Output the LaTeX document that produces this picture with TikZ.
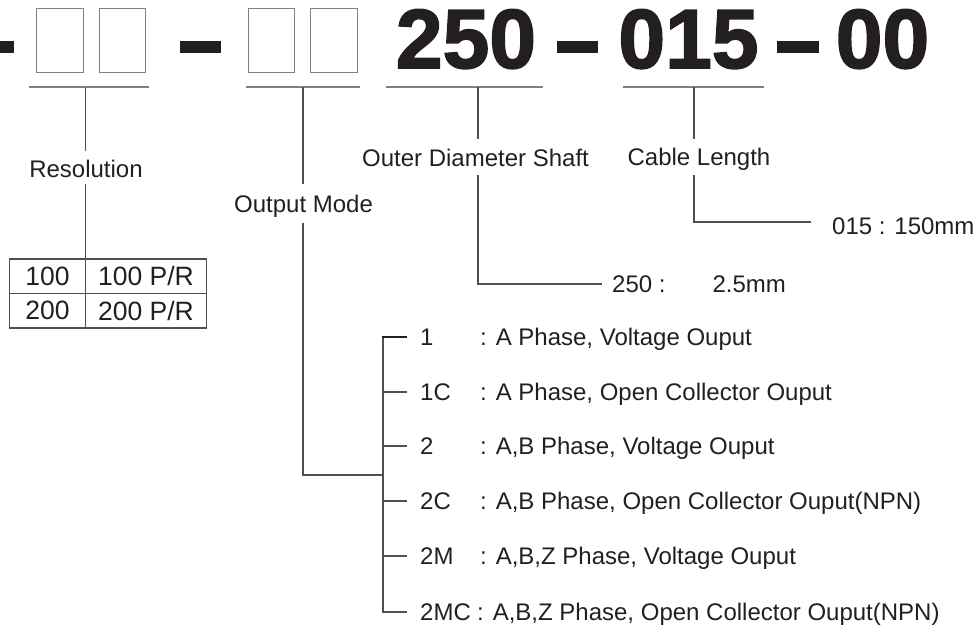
\documentclass[tikz,border=0pt]{standalone}
\usepackage{fontspec}
\setmainfont{Liberation Sans}
\newfontfamily\heavyfont[FakeBold=2]{Liberation Sans Bold}
\definecolor{ink}{HTML}{231F20}
\definecolor{lgray}{HTML}{808080}
\definecolor{dgray}{HTML}{505050}
\begin{document}
\begin{tikzpicture}[x=1pt,y=-1pt,
  lab/.style={font=\fontsize{24}{28}\selectfont, text=ink, inner sep=0pt, anchor=base},
  labw/.style={lab, anchor=base west},
  bigdig/.style={font=\fontsize{84}{90}\selectfont\heavyfont, text=ink, inner sep=0pt, anchor=base},
  slot/.style={draw=lgray, line width=1pt, minimum width=46.5pt, minimum height=64pt, inner sep=0pt},
  bar/.style={fill=ink, draw=none, inner sep=0pt, minimum height=12pt},
  uline/.style={draw=lgray, line width=1.1pt},
  conn/.style={draw=dgray, line width=1.1pt},
  cell/.style={draw=dgray, line width=1.1pt, inner sep=0pt, outer sep=0pt, font=\fontsize{26.5}{30}\selectfont, text=ink},
]
\useasboundingbox (0,0) rectangle (975,625);

% code line
\node[bar, minimum width=14pt] (d0) at (7,47) {};
\node[slot] (b1) at (60,40) {};
\node[slot] (b2) at (122.5,40) {};
\node[bar, minimum width=41pt] (d1) at (200.5,47) {};
\node[slot] (b3) at (271.5,40) {};
\node[slot] (b4) at (334,40) {};
\node[bigdig] (n250) at (466,68) {250};
\node[bar, minimum width=41pt] (d2) at (577.5,47) {};
\node[bigdig] (n015) at (688.5,68) {015};
\node[bar, minimum width=42pt] (d3) at (798,47) {};
\node[bigdig] (n00) at (882.5,68) {00};

% underlines
\coordinate (u1) at (85.5,87);
\coordinate (u2) at (303,87);
\coordinate (u3) at (478,87);
\coordinate (u4) at (694,87);
\draw[uline] (29,87) -- (149,87);
\draw[uline] (246,87) -- (360,87);
\draw[uline] (386,87) -- (543,87);
\draw[uline] (623,87) -- (764,87);

% labels
\node[lab] (res) at (86,177) {Resolution};
\node[lab] (om) at (303.5,212) {Output Mode};
\node[lab] (ods) at (475.5,166) {Outer Diameter Shaft};
\node[lab] (cl) at (699,165) {Cable Length};

% resolution table
\node[cell, minimum width=76pt, minimum height=34.5pt] (t11) at (47.5,276.25) {100};
\node[cell, minimum width=121pt, minimum height=34.5pt] (t12) at (146,276.25) {100 P/R};
\node[cell, minimum width=76pt, minimum height=34.5pt] (t21) at (47.5,310.75) {200};
\node[cell, minimum width=121pt, minimum height=34.5pt] (t22) at (146,310.75) {200 P/R};

% resolution connector
\draw[conn] (u1) -- (85.5,151);
\draw[conn] (85.5,184) -- (t11.north east);

% outer diameter
\node[labw] (v250) at (612,292.5) {250 :\hspace{47pt}2.5mm};
\coordinate (e250) at (602,284);
\draw[conn] (u3) -- (478,139);
\draw[conn] (478,175) -- (478,284) -- (e250);

% cable length
\node[labw] (v015) at (832,234.5) {015 : 150mm};
\coordinate (e015) at (811,222);
\draw[conn] (u4) -- (694,139);
\draw[conn] (694,175) -- (694,222) -- (e015);

% output mode
\coordinate (bj) at (383,475);
\draw[conn] (u2) -- (303,184);
\draw[conn] (303,223) -- (303,475) -- (bj);

\node[labw] (c1) at (420,345.5) {1};
\node[labw] (c1C) at (420,400.5) {1C};
\node[labw] (c2) at (420,454.5) {2};
\node[labw] (c2C) at (420,509.5) {2C};
\node[labw] (c2M) at (420,564.5) {2M};
\node[labw] (c2MC) at (420,620.5) {2MC};
\node[labw] (x1) at (480,345.5) {: A Phase, Voltage Ouput};
\node[labw] (x1C) at (480,400.5) {: A Phase, Open Collector Ouput};
\node[labw] (x2) at (480,454.5) {: A,B Phase, Voltage Ouput};
\node[labw] (x2C) at (480,509.5) {: A,B Phase, Open Collector Ouput(NPN)};
\node[labw] (x2M) at (480,564.5) {: A,B,Z Phase, Voltage Ouput};
\node[labw] (x2MC) at (477,620.5) {: A,B,Z Phase, Open Collector Ouput(NPN)};

\coordinate (k1) at (407,337);
\coordinate (k1C) at (407,392);
\coordinate (k2) at (407,446);
\coordinate (k2C) at (407,501);
\coordinate (k2M) at (407,556);
\coordinate (k2MC) at (407,612);
\draw[conn] (383,337) -- (383,612) -- (k2MC);
\draw[draw=ink, line width=1.5pt] (382.45,337) -- (k1);
\draw[conn] (383,392) -- (k1C);
\draw[conn] (383,446) -- (k2);
\draw[conn] (383,501) -- (k2C);
\draw[conn] (383,556) -- (k2M);
\end{tikzpicture}
\end{document}
